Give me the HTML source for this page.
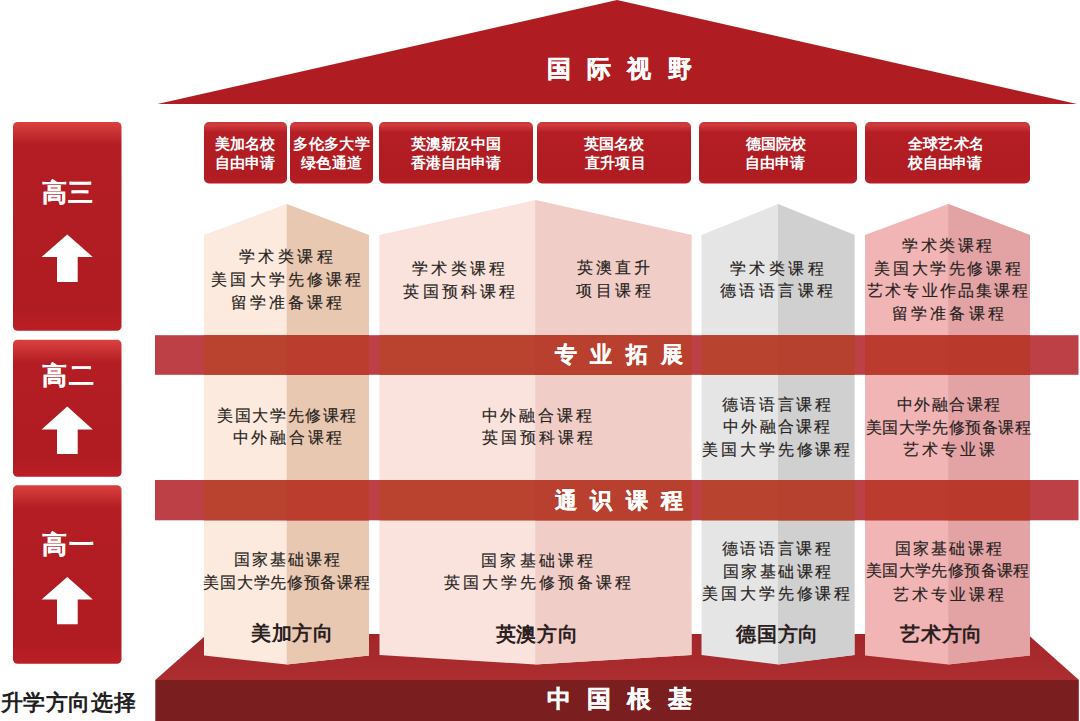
<!DOCTYPE html>
<html><head><meta charset="utf-8">
<style>
html,body{margin:0;padding:0;background:#fff;}
body{width:1080px;height:721px;position:relative;overflow:hidden;font-family:"Liberation Sans",sans-serif;}
svg{position:absolute;left:0;top:0;}
.x{position:absolute;white-space:nowrap;line-height:1;}
</style></head>
<body>
<svg width="1080" height="721" viewBox="0 0 1080 721">
<defs>
<linearGradient id="lb1" gradientUnits="userSpaceOnUse" x1="0" y1="122" x2="0" y2="330">
<stop offset="0" stop-color="#d9423f"/><stop offset="0.11" stop-color="#b31d23"/><stop offset="0.9" stop-color="#b01c22"/><stop offset="1" stop-color="#bb1f25"/>
</linearGradient>
<linearGradient id="lb2" gradientUnits="userSpaceOnUse" x1="0" y1="340" x2="0" y2="476">
<stop offset="0" stop-color="#d9423f"/><stop offset="0.17" stop-color="#b31d23"/><stop offset="0.88" stop-color="#b01c22"/><stop offset="1" stop-color="#bb1f25"/>
</linearGradient>
<linearGradient id="lb3" gradientUnits="userSpaceOnUse" x1="0" y1="485" x2="0" y2="663">
<stop offset="0" stop-color="#d9423f"/><stop offset="0.13" stop-color="#b31d23"/><stop offset="0.9" stop-color="#b01c22"/><stop offset="1" stop-color="#bb1f25"/>
</linearGradient>
<linearGradient id="tb" gradientUnits="userSpaceOnUse" x1="0" y1="122" x2="0" y2="183.5">
<stop offset="0" stop-color="#c0393a"/><stop offset="0.05" stop-color="#d23c3d"/><stop offset="0.17" stop-color="#b41e24"/><stop offset="0.85" stop-color="#b01c22"/><stop offset="1" stop-color="#b81e24"/>
</linearGradient>
<linearGradient id="bt" gradientUnits="userSpaceOnUse" x1="0" y1="634" x2="0" y2="680">
<stop offset="0" stop-color="#a2262a"/><stop offset="0.8" stop-color="#ab2c2f"/><stop offset="1" stop-color="#ad2e31"/>
</linearGradient>
</defs>
<!-- roof -->
<polygon points="157.5,104 617,0 1077,104" fill="#af1d23"/>
<!-- top boxes -->
<g>
<rect x="204" y="122" width="83" height="61.5" rx="5" fill="url(#tb)"/>
<rect x="290" y="122" width="83" height="61.5" rx="5" fill="url(#tb)"/>
<rect x="379" y="122" width="154" height="61.5" rx="5" fill="url(#tb)"/>
<rect x="537" y="122" width="154" height="61.5" rx="5" fill="url(#tb)"/>
<rect x="699" y="122" width="158" height="61.5" rx="5" fill="url(#tb)"/>
<rect x="865" y="122" width="165" height="61.5" rx="5" fill="url(#tb)"/>
</g>
<!-- left boxes -->
<rect x="13" y="122" width="108.5" height="208.7" rx="4.5" fill="url(#lb1)"/>
<rect x="13" y="339.7" width="108.5" height="137" rx="4.5" fill="url(#lb2)"/>
<rect x="13" y="485.2" width="108.5" height="178.6" rx="4.5" fill="url(#lb3)"/>
<!-- arrows -->
<polygon points="67.25,234.6 92.8,257 77.7,257 77.7,282 57,282 57,257 41.6,257" fill="#fff"/>
<polygon points="67.25,406.5 92.8,429.5 77.7,429.5 77.7,454 57,454 57,429.5 41.6,429.5" fill="#fff"/>
<polygon points="67.25,577 92.8,599.5 77.7,599.5 77.7,624.2 57,624.2 57,599.5 41.6,599.5" fill="#fff"/>
<!-- base -->
<polygon points="155.3,680 207.3,634 1027.3,634 1079,680" fill="url(#bt)"/>
<rect x="155.3" y="680" width="923.5" height="41" fill="#7a1e1f"/>
<!-- pillars -->
<polygon points="204,235 286.7,204 369,235 369,655.5 286.7,664.5 204,655.5" fill="#fbeadd"/>
<polygon points="286.7,204 369,235 369,655.5 286.7,664.5" fill="#e8c8b0"/>
<polygon points="379.5,235 535.3,200 691.5,235 691.5,655 535.3,664.5 379.5,655" fill="#f9e3dc"/>
<polygon points="535.3,200 691.5,235 691.5,655 535.3,664.5" fill="#f0cdc6"/>
<polygon points="701.5,235 778,204 854.5,235 854.5,655 778,664.5 701.5,655" fill="#e5e5e5"/>
<polygon points="778,204 854.5,235 854.5,655 778,664.5" fill="#d0d0d0"/>
<polygon points="865,235 948.3,204 1030,235 1030,655.5 948.3,664.5 865,655.5" fill="#f1b5b6"/>
<polygon points="948.3,204 1030,235 1030,655.5 948.3,664.5" fill="#e3a3a5"/>
<!-- bands -->
<rect x="155" y="335.2" width="923.5" height="39.6" fill="#bd4047"/>
<rect x="155" y="480" width="923.5" height="40.3" fill="#bd4047"/>
<rect x="204" y="335.2" width="165" height="39.6" fill="#b9432f"/><rect x="286.7" y="335.2" width="82.3" height="39.6" fill="#ba3d2e"/>
<rect x="379.5" y="335.2" width="312.0" height="39.6" fill="#b9432f"/><rect x="535.3" y="335.2" width="156.2" height="39.6" fill="#b93f2f"/>
<rect x="701.5" y="335.2" width="153.0" height="39.6" fill="#b8432f"/><rect x="778" y="335.2" width="76.5" height="39.6" fill="#b5412e"/>
<rect x="865" y="335.2" width="165" height="39.6" fill="#bb3b2f"/><rect x="948.3" y="335.2" width="81.7" height="39.6" fill="#b9392d"/>
<rect x="204" y="480" width="165" height="40.3" fill="#b9432f"/><rect x="286.7" y="480" width="82.3" height="40.3" fill="#ba3d2e"/>
<rect x="379.5" y="480" width="312.0" height="40.3" fill="#b9432f"/><rect x="535.3" y="480" width="156.2" height="40.3" fill="#b93f2f"/>
<rect x="701.5" y="480" width="153.0" height="40.3" fill="#b8432f"/><rect x="778" y="480" width="76.5" height="40.3" fill="#b5412e"/>
<rect x="865" y="480" width="165" height="40.3" fill="#bb3b2f"/><rect x="948.3" y="480" width="81.7" height="40.3" fill="#b9392d"/>
</svg>

<div class="x" style="left:546.50px;top:57.15px;font-family:'Liberation Sans',sans-serif;font-size:24px;font-weight:bold;color:#ffffff;letter-spacing:16.433px;-webkit-text-stroke:0.3px #ffffff;">国际视野</div>
<div class="x" style="left:546.50px;top:687.15px;font-family:'Liberation Sans',sans-serif;font-size:24px;font-weight:bold;color:#ffffff;letter-spacing:16.400px;-webkit-text-stroke:0.3px #ffffff;">中国根基</div>
<div class="x" style="left:555.00px;top:344.35px;font-family:'Liberation Sans',sans-serif;font-size:22px;font-weight:bold;color:#ffffff;letter-spacing:13.433px;-webkit-text-stroke:0.3px #ffffff;">专业拓展</div>
<div class="x" style="left:554.70px;top:489.80px;font-family:'Liberation Sans',sans-serif;font-size:22px;font-weight:bold;color:#ffffff;letter-spacing:13.433px;-webkit-text-stroke:0.3px #ffffff;">通识课程</div>
<div class="x" style="left:41.90px;top:179.80px;font-family:'Liberation Sans',sans-serif;font-size:25px;font-weight:bold;color:#ffffff;letter-spacing:1.300px;-webkit-text-stroke:0.2px #ffffff;">高三</div>
<div class="x" style="left:41.90px;top:363.00px;font-family:'Liberation Sans',sans-serif;font-size:25px;font-weight:bold;color:#ffffff;letter-spacing:1.700px;-webkit-text-stroke:0.2px #ffffff;">高二</div>
<div class="x" style="left:41.90px;top:531.70px;font-family:'Liberation Sans',sans-serif;font-size:25px;font-weight:bold;color:#ffffff;letter-spacing:2.100px;-webkit-text-stroke:0.2px #ffffff;">高一</div>
<div class="x" style="left:0.70px;top:692.20px;font-family:'Liberation Sans',sans-serif;font-size:22px;font-weight:bold;color:#231f1f;letter-spacing:0.600px;">升学方向选择</div>
<div class="x" style="left:251.00px;top:622.90px;font-family:'Liberation Sans',sans-serif;font-size:20px;font-weight:bold;color:#2a2020;letter-spacing:0.600px;">美加方向</div>
<div class="x" style="left:495.60px;top:623.50px;font-family:'Liberation Sans',sans-serif;font-size:20px;font-weight:bold;color:#2a2020;letter-spacing:0.733px;">英澳方向</div>
<div class="x" style="left:736.00px;top:623.50px;font-family:'Liberation Sans',sans-serif;font-size:20px;font-weight:bold;color:#2a2020;letter-spacing:0.800px;">德国方向</div>
<div class="x" style="left:900.20px;top:623.50px;font-family:'Liberation Sans',sans-serif;font-size:20px;font-weight:bold;color:#2a2020;letter-spacing:0.700px;">艺术方向</div>
<div class="x" style="left:215.30px;top:136.05px;font-family:'Liberation Sans',sans-serif;font-size:15px;font-weight:bold;color:#ffffff;letter-spacing:-0.100px;">美加名校</div>
<div class="x" style="left:215.30px;top:154.95px;font-family:'Liberation Sans',sans-serif;font-size:15px;font-weight:bold;color:#ffffff;letter-spacing:-0.100px;">自由申请</div>
<div class="x" style="left:293.40px;top:136.05px;font-family:'Liberation Sans',sans-serif;font-size:15px;font-weight:bold;color:#ffffff;letter-spacing:0.325px;">多伦多大学</div>
<div class="x" style="left:301.30px;top:154.95px;font-family:'Liberation Sans',sans-serif;font-size:15px;font-weight:bold;color:#ffffff;letter-spacing:0.167px;">绿色通道</div>
<div class="x" style="left:411.00px;top:136.40px;font-family:'Liberation Sans',sans-serif;font-size:15px;font-weight:bold;color:#ffffff;letter-spacing:0.100px;">英澳新及中国</div>
<div class="x" style="left:411.00px;top:155.20px;font-family:'Liberation Sans',sans-serif;font-size:15px;font-weight:bold;color:#ffffff;letter-spacing:-0.100px;">香港自由申请</div>
<div class="x" style="left:584.30px;top:136.25px;font-family:'Liberation Sans',sans-serif;font-size:15px;font-weight:bold;color:#ffffff;letter-spacing:-0.167px;">英国名校</div>
<div class="x" style="left:584.80px;top:155.10px;font-family:'Liberation Sans',sans-serif;font-size:15px;font-weight:bold;color:#ffffff;letter-spacing:0.333px;">直升项目</div>
<div class="x" style="left:745.80px;top:136.40px;font-family:'Liberation Sans',sans-serif;font-size:15px;font-weight:bold;color:#ffffff;letter-spacing:0.000px;">德国院校</div>
<div class="x" style="left:744.70px;top:155.20px;font-family:'Liberation Sans',sans-serif;font-size:15px;font-weight:bold;color:#ffffff;letter-spacing:0.100px;">自由申请</div>
<div class="x" style="left:908.30px;top:136.40px;font-family:'Liberation Sans',sans-serif;font-size:15px;font-weight:bold;color:#ffffff;letter-spacing:0.100px;">全球艺术名</div>
<div class="x" style="left:908.30px;top:155.25px;font-family:'Liberation Sans',sans-serif;font-size:15px;font-weight:bold;color:#ffffff;letter-spacing:-0.275px;">校自由申请</div>
<div class="x" style="left:238.70px;top:249.10px;font-family:'Liberation Serif',serif;font-size:15.5px;font-weight:normal;color:#262220;letter-spacing:3.600px;-webkit-text-stroke:0.15px #262220;">学术类课程</div>
<div class="x" style="left:211.20px;top:271.80px;font-family:'Liberation Serif',serif;font-size:15.5px;font-weight:normal;color:#262220;letter-spacing:3.171px;-webkit-text-stroke:0.15px #262220;">美国大学先修课程</div>
<div class="x" style="left:230.60px;top:294.50px;font-family:'Liberation Serif',serif;font-size:15.5px;font-weight:normal;color:#262220;letter-spacing:3.080px;-webkit-text-stroke:0.15px #262220;">留学准备课程</div>
<div class="x" style="left:411.80px;top:260.50px;font-family:'Liberation Serif',serif;font-size:15.5px;font-weight:normal;color:#262220;letter-spacing:3.425px;-webkit-text-stroke:0.15px #262220;">学术类课程</div>
<div class="x" style="left:403.40px;top:283.70px;font-family:'Liberation Serif',serif;font-size:15.5px;font-weight:normal;color:#262220;letter-spacing:3.140px;-webkit-text-stroke:0.15px #262220;">英国预科课程</div>
<div class="x" style="left:576.60px;top:260.10px;font-family:'Liberation Serif',serif;font-size:15.5px;font-weight:normal;color:#262220;letter-spacing:3.067px;-webkit-text-stroke:0.15px #262220;">英澳直升</div>
<div class="x" style="left:576.10px;top:283.20px;font-family:'Liberation Serif',serif;font-size:15.5px;font-weight:normal;color:#262220;letter-spacing:3.533px;-webkit-text-stroke:0.15px #262220;">项目课程</div>
<div class="x" style="left:729.50px;top:260.60px;font-family:'Liberation Serif',serif;font-size:15.5px;font-weight:normal;color:#262220;letter-spacing:3.500px;-webkit-text-stroke:0.15px #262220;">学术类课程</div>
<div class="x" style="left:720.10px;top:283.10px;font-family:'Liberation Serif',serif;font-size:15.5px;font-weight:normal;color:#262220;letter-spacing:3.360px;-webkit-text-stroke:0.15px #262220;">德语语言课程</div>
<div class="x" style="left:902.40px;top:237.50px;font-family:'Liberation Serif',serif;font-size:15.5px;font-weight:normal;color:#262220;letter-spacing:2.475px;-webkit-text-stroke:0.15px #262220;">学术类课程</div>
<div class="x" style="left:874.40px;top:261.00px;font-family:'Liberation Serif',serif;font-size:15.5px;font-weight:normal;color:#262220;letter-spacing:2.600px;-webkit-text-stroke:0.15px #262220;">美国大学先修课程</div>
<div class="x" style="left:867.30px;top:283.30px;font-family:'Liberation Serif',serif;font-size:15.5px;font-weight:normal;color:#262220;letter-spacing:2.075px;-webkit-text-stroke:0.15px #262220;">艺术专业作品集课程</div>
<div class="x" style="left:892.20px;top:306.00px;font-family:'Liberation Serif',serif;font-size:15.5px;font-weight:normal;color:#262220;letter-spacing:3.080px;-webkit-text-stroke:0.15px #262220;">留学准备课程</div>
<div class="x" style="left:217.10px;top:407.50px;font-family:'Liberation Serif',serif;font-size:15.5px;font-weight:normal;color:#262220;letter-spacing:1.614px;-webkit-text-stroke:0.15px #262220;">美国大学先修课程</div>
<div class="x" style="left:232.60px;top:429.80px;font-family:'Liberation Serif',serif;font-size:15.5px;font-weight:normal;color:#262220;letter-spacing:2.730px;-webkit-text-stroke:0.15px #262220;">中外融合课程</div>
<div class="x" style="left:481.50px;top:407.50px;font-family:'Liberation Serif',serif;font-size:15.5px;font-weight:normal;color:#262220;letter-spacing:2.950px;-webkit-text-stroke:0.15px #262220;">中外融合课程</div>
<div class="x" style="left:481.50px;top:430.30px;font-family:'Liberation Serif',serif;font-size:15.5px;font-weight:normal;color:#262220;letter-spacing:3.080px;-webkit-text-stroke:0.15px #262220;">英国预科课程</div>
<div class="x" style="left:721.50px;top:396.70px;font-family:'Liberation Serif',serif;font-size:15.5px;font-weight:normal;color:#262220;letter-spacing:2.740px;-webkit-text-stroke:0.15px #262220;">德语语言课程</div>
<div class="x" style="left:723.00px;top:418.80px;font-family:'Liberation Serif',serif;font-size:15.5px;font-weight:normal;color:#262220;letter-spacing:2.300px;-webkit-text-stroke:0.15px #262220;">中外融合课程</div>
<div class="x" style="left:702.40px;top:441.70px;font-family:'Liberation Serif',serif;font-size:15.5px;font-weight:normal;color:#262220;letter-spacing:2.843px;-webkit-text-stroke:0.15px #262220;">美国大学先修课程</div>
<div class="x" style="left:896.60px;top:396.70px;font-family:'Liberation Serif',serif;font-size:15.5px;font-weight:normal;color:#262220;letter-spacing:1.560px;-webkit-text-stroke:0.15px #262220;">中外融合课程</div>
<div class="x" style="left:865.50px;top:419.80px;font-family:'Liberation Serif',serif;font-size:15.5px;font-weight:normal;color:#262220;letter-spacing:0.622px;-webkit-text-stroke:0.15px #262220;">美国大学先修预备课程</div>
<div class="x" style="left:903.00px;top:441.60px;font-family:'Liberation Serif',serif;font-size:15.5px;font-weight:normal;color:#262220;letter-spacing:2.925px;-webkit-text-stroke:0.15px #262220;">艺术专业课</div>
<div class="x" style="left:234.30px;top:552.20px;font-family:'Liberation Serif',serif;font-size:15.5px;font-weight:normal;color:#262220;letter-spacing:1.920px;-webkit-text-stroke:0.15px #262220;">国家基础课程</div>
<div class="x" style="left:203.40px;top:574.90px;font-family:'Liberation Serif',serif;font-size:15.5px;font-weight:normal;color:#262220;letter-spacing:0.722px;-webkit-text-stroke:0.15px #262220;">美国大学先修预备课程</div>
<div class="x" style="left:481.10px;top:552.90px;font-family:'Liberation Serif',serif;font-size:15.5px;font-weight:normal;color:#262220;letter-spacing:3.220px;-webkit-text-stroke:0.15px #262220;">国家基础课程</div>
<div class="x" style="left:443.50px;top:575.20px;font-family:'Liberation Serif',serif;font-size:15.5px;font-weight:normal;color:#262220;letter-spacing:3.011px;-webkit-text-stroke:0.15px #262220;">英国大学先修预备课程</div>
<div class="x" style="left:721.50px;top:540.80px;font-family:'Liberation Serif',serif;font-size:15.5px;font-weight:normal;color:#262220;letter-spacing:2.740px;-webkit-text-stroke:0.15px #262220;">德语语言课程</div>
<div class="x" style="left:723.00px;top:563.80px;font-family:'Liberation Serif',serif;font-size:15.5px;font-weight:normal;color:#262220;letter-spacing:2.440px;-webkit-text-stroke:0.15px #262220;">国家基础课程</div>
<div class="x" style="left:702.40px;top:586.30px;font-family:'Liberation Serif',serif;font-size:15.5px;font-weight:normal;color:#262220;letter-spacing:2.843px;-webkit-text-stroke:0.15px #262220;">美国大学先修课程</div>
<div class="x" style="left:894.70px;top:541.10px;font-family:'Liberation Serif',serif;font-size:15.5px;font-weight:normal;color:#262220;letter-spacing:2.260px;-webkit-text-stroke:0.15px #262220;">国家基础课程</div>
<div class="x" style="left:865.80px;top:563.40px;font-family:'Liberation Serif',serif;font-size:15.5px;font-weight:normal;color:#262220;letter-spacing:0.411px;-webkit-text-stroke:0.15px #262220;">美国大学先修预备课程</div>
<div class="x" style="left:893.20px;top:586.50px;font-family:'Liberation Serif',serif;font-size:15.5px;font-weight:normal;color:#262220;letter-spacing:3.040px;-webkit-text-stroke:0.15px #262220;">艺术专业课程</div>
</body></html>
